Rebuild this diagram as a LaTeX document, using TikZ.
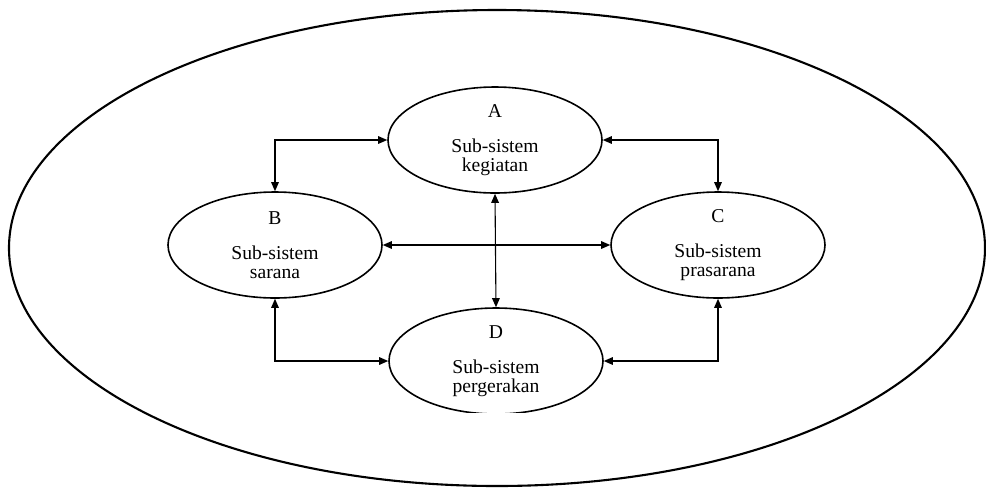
\documentclass[tikz,border=0pt]{standalone}
\usepackage{fontspec}
\setmainfont{Liberation Serif}
\usetikzlibrary{arrows.meta, shapes.geometric}

\begin{document}
\begin{tikzpicture}[
    x=0.5pt, y=-0.5pt,
    font=\fontsize{9.8pt}{9.4pt}\selectfont,
    every node/.style={align=center},
    subsys/.style={
      ellipse, draw=black, line width=0.8pt, inner sep=0pt,
      minimum width=107pt, minimum height=53pt,
    },
    link/.style={
      draw=black, line width=0.55pt,
      {Triangle[length=4.5pt, width=3.8pt]}-{Triangle[length=4.5pt, width=3.8pt]}
    },
  ]
    \useasboundingbox (0,0) rectangle (986,489);

    % outer system boundary
    \draw[line width=1.05pt] (497,248) ellipse [x radius=488, y radius=238];

    \node[subsys] (keg) at (495,140)
      {A\\[8.1pt]Sub-sistem\\kegiatan};
    \node[subsys] (sar) at (275,245)
      {B\\[8.1pt]Sub-sistem\\sarana};
    \node[subsys] (pras) at (718,245)
      {C\\[8.1pt]Sub-sistem\\prasarana};
    \begin{scope}
      \clip (0,0) rectangle (986,412);
      \node[subsys] (gerak) at (496,361)
        {D\\[8.1pt]Sub-sistem\\pergerakan};
    \end{scope}

    \draw[link] (sar.north) |- (keg.west);
    \draw[link] (pras.north) |- (keg.east);
    \draw[link] (keg.south) -- (gerak.north);
    \draw[link] (sar.east) -- (pras.west);
    \draw[link] (sar.south) |- (gerak.west);
    \draw[link] (pras.south) |- (gerak.east);
  \end{tikzpicture}
\end{document}
